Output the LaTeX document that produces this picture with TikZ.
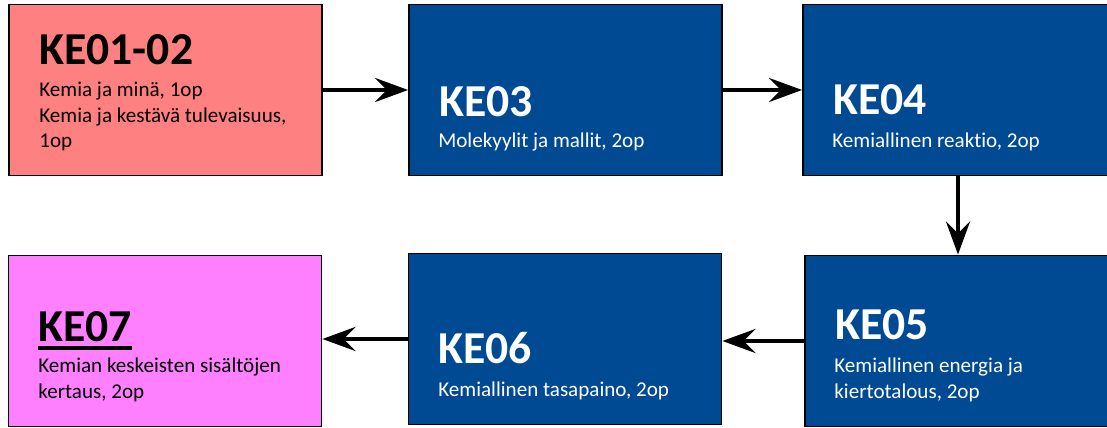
\documentclass[tikz,border=0pt]{standalone}
\usepackage{fontspec}
\setmainfont{Carlito}[Ligatures=CommonOff]
\usetikzlibrary{arrows.meta,calc}

\definecolor{kesalmon}{RGB}{255,128,128}
\definecolor{keblue}{RGB}{0,74,148}
\definecolor{kepink}{RGB}{255,128,255}

\newcommand{\kelines}[1]{\begin{tabular}[t]{@{}l@{}}#1\end{tabular}}
\newcommand{\keul}[1]{\setbox0\hbox{#1}\rlap{\rule[-4.3pt]{\wd0}{1.9pt}}\box0}

\begin{document}
\begin{tikzpicture}[x=0.02cm,y=-0.02cm,
  course/.style={draw=black,line width=1.1pt,minimum width=6.26cm,minimum height=3.42cm,inner sep=0pt},
  title/.style={anchor=base west,inner sep=0pt,font=\fontsize{26}{30}\selectfont\bfseries},
  sub/.style={anchor=base west,inner sep=0pt,font=\fontsize{12}{14.5}\selectfont},
  flow/.style={line width=2.3pt,-{Stealth[length=0.66cm,width=0.48cm,inset=0.234cm]}}]

\useasboundingbox (0,0) rectangle (1107,428);
\clip (0,0) rectangle (1107,428);

% boxes
\node[course,fill=kesalmon] (ke12) at (165.5,90) {};
\node[course,fill=keblue] (ke03) at (565.5,90) {};
\node[course,fill=keblue,minimum width=6.2cm] (ke04) at (958,90) {};
\node[course,fill=kepink] (ke07) at (165,341) {};
\node[course,fill=keblue] (ke06) at (565,339) {};
\node[course,fill=keblue,minimum width=6.2cm] (ke05) at (960,341) {};

% texts
\node[title] (t12) at (39,65) {KE01-02};
\node[sub] (s12) at (39,97) {\kelines{Kemia ja minä, 1op\\Kemia ja kestävä tulevaisuus,\\1op}};
\node[title,text=white] (t03) at (439,117) {KE03};
\node[sub,text=white] (s03) at (438,148) {Molekyylit ja mallit, 2op};
\node[title,text=white] (t04) at (833,115) {KE04};
\node[sub,text=white] (s04) at (832,148) {Kemiallinen reaktio, 2op};
\node[title,text=white] (t05) at (835,340) {KE05};
\node[sub,text=white] (s05) at (834,373) {\kelines{Kemiallinen energia ja\\kiertotalous, 2op}};
\node[title,text=white] (t06) at (438,364) {KE06};
\node[sub,text=white] (s06) at (438,397) {Kemiallinen tasapaino, 2op};
\node[title] (t07) at (38,342) {\keul{KE07}};
\node[sub] (s07) at (38,373) {\kelines{Kemian keskeisten sisältöjen\\kertaus, 2op}};

% arrows
\draw[flow] (ke12.east) -- (ke03.west);
\draw[flow] (ke03.east) -- (ke04.west);
\draw[flow] (ke04.south) -- (ke04.south |- ke05.north);
\draw[flow] (ke05.west) -- (ke05.west -| ke06.east);
\draw[flow] (ke06.west) -- (ke06.west -| ke07.east);

\end{tikzpicture}
\end{document}
